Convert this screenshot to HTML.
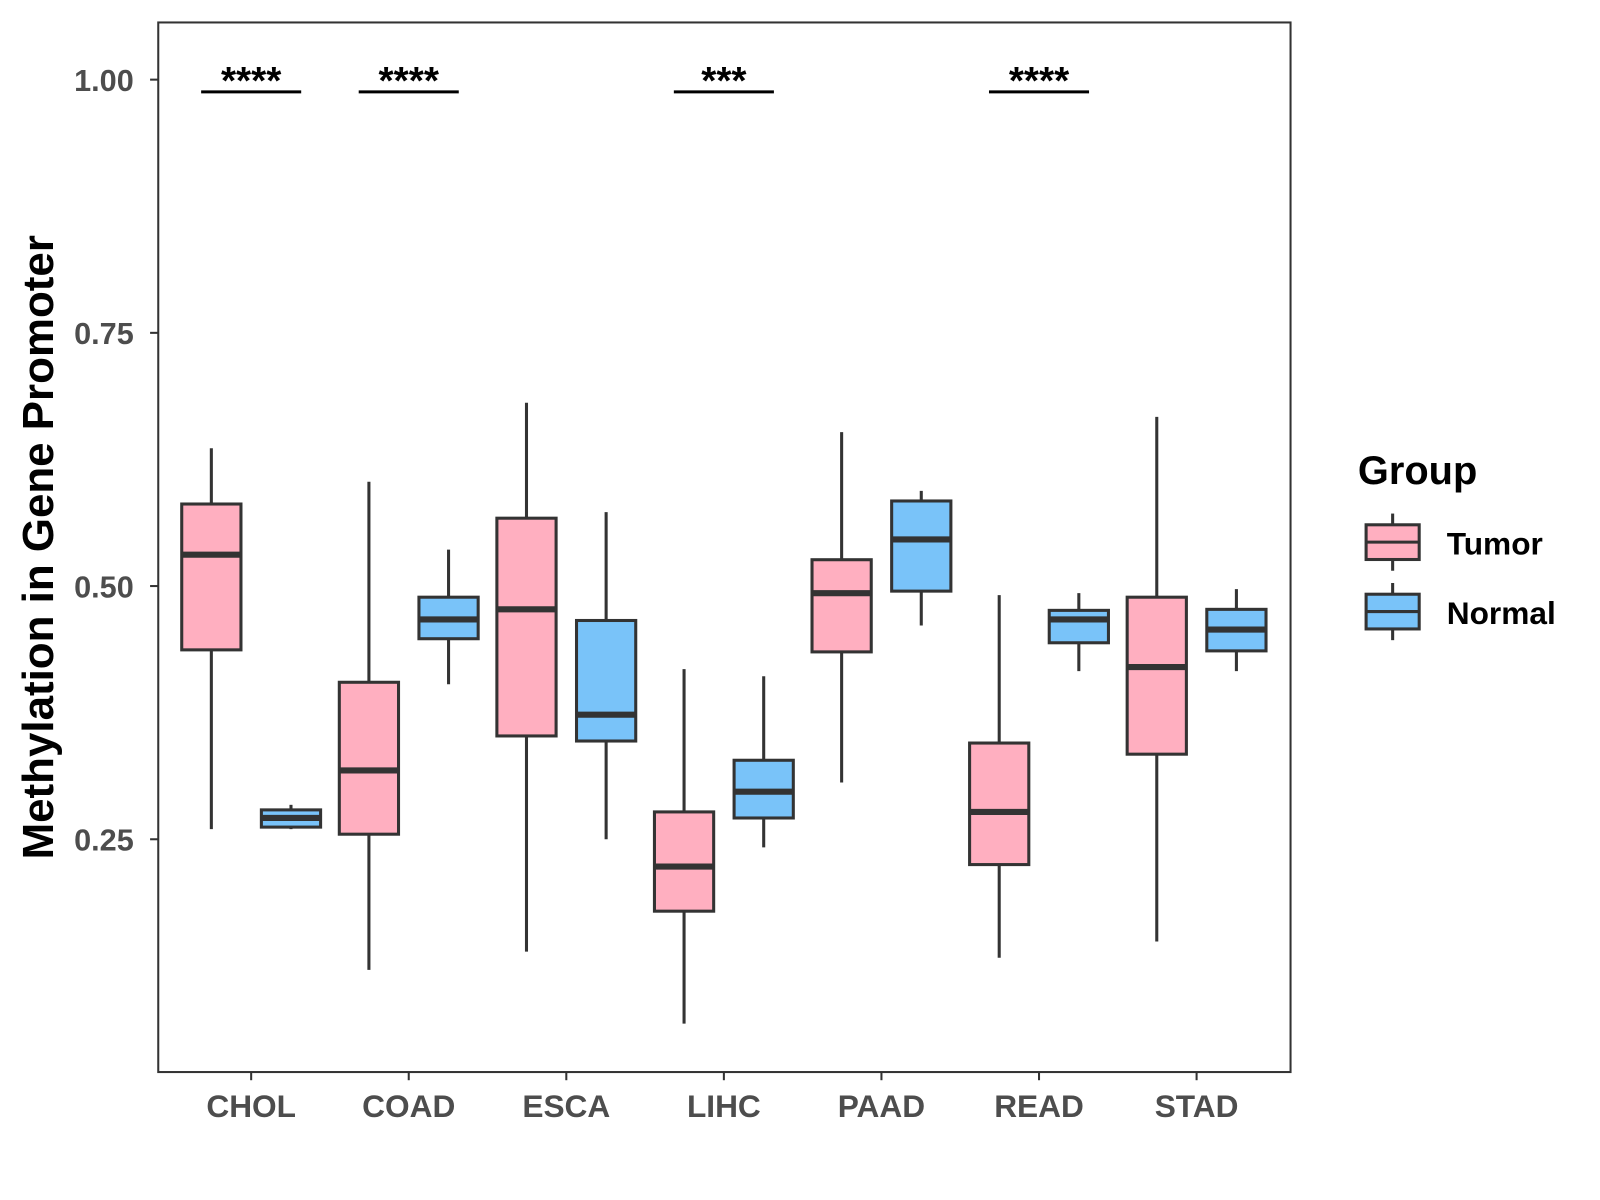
<!DOCTYPE html>
<html><head><meta charset="utf-8"><style>
html,body{margin:0;padding:0;background:#fff;width:1600px;height:1200px;overflow:hidden}
svg{display:block;font-family:"Liberation Sans",Arial,sans-serif}
</style></head><body>
<svg id="chart" width="1600" height="1200" viewBox="0 0 1600 1200">
<g transform="scale(1.021)">
<rect x="155" y="22" width="1109" height="1028" fill="#fff" stroke="#333" stroke-width="2"/>
<g id="ticks"></g>
<g id="boxes"></g>
<g id="sig"></g>
<text x="52" y="536" transform="rotate(-90 52 536)" text-anchor="middle" font-size="43" font-weight="bold" fill="#000">Methylation in Gene Promoter</text>
<g>
<text x="1330" y="474" font-size="39" font-weight="bold" fill="#000">Group</text>
<g>
<line x1="1364" y1="503" x2="1364" y2="514" stroke="#333" stroke-width="3"/>
<line x1="1364" y1="548" x2="1364" y2="559" stroke="#333" stroke-width="3"/>
<rect x="1338" y="514" width="52" height="34" fill="#FFAFC0" stroke="#333" stroke-width="3"/>
<line x1="1338" y1="531" x2="1390" y2="531" stroke="#333" stroke-width="3"/>
<text x="1417" y="543" font-size="31" font-weight="bold" fill="#000">Tumor</text>
</g>
<g>
<line x1="1364" y1="571" x2="1364" y2="582" stroke="#333" stroke-width="3"/>
<line x1="1364" y1="616" x2="1364" y2="627" stroke="#333" stroke-width="3"/>
<rect x="1338" y="582" width="52" height="34" fill="#79C3F9" stroke="#333" stroke-width="3"/>
<line x1="1338" y1="599" x2="1390" y2="599" stroke="#333" stroke-width="3"/>
<text x="1417" y="611" font-size="31" font-weight="bold" fill="#000">Normal</text>
</g>
</g>
</g>
</svg>
<script>
const categories=["CHOL","COAD","ESCA","LIHC","PAAD","READ","STAD"];
// [low, q1, median, q3, high]
const tumorStats=[[0.26,0.437,0.531,0.581,0.636],[0.121,0.255,0.318,0.405,0.603],[0.139,0.352,0.477,0.567,0.681],[0.068,0.179,0.223,0.277,0.418],[0.306,0.435,0.493,0.526,0.652],[0.133,0.225,0.277,0.345,0.491],[0.149,0.334,0.42,0.489,0.667]];
const normalStats=[[0.26,0.262,0.271,0.279,0.284],[0.403,0.448,0.467,0.489,0.536],[0.25,0.347,0.373,0.466,0.573],[0.242,0.271,0.297,0.328,0.411],[0.461,0.495,0.546,0.584,0.594],[0.416,0.444,0.467,0.476,0.493],[0.416,0.436,0.457,0.477,0.497]];
const yTicks=[0.25,0.5,0.75,1.0];
const yTickLabels=["0.25","0.50","0.75","1.00"];
const sigLabels=["****","****","","***","","****",""];

const NS="http://www.w3.org/2000/svg";
function y(v){return 78+(1-v)*992;}
function x(i){return 246+i*154.33;}
function mk(tag,attrs,parent){const e=document.createElementNS(NS,tag);for(const k in attrs)e.setAttribute(k,attrs[k]);parent.appendChild(e);return e;}
const ticks=document.getElementById('ticks'),boxes=document.getElementById('boxes'),sig=document.getElementById('sig');
yTicks.forEach((v,i)=>{
  mk('line',{x1:147,x2:155,y1:y(v),y2:y(v),stroke:'#333','stroke-width':2},ticks);
  const t=mk('text',{x:131,y:y(v)+11,'text-anchor':'end','font-size':30,'font-weight':'bold',fill:'#4d4d4d'},ticks);
  t.textContent=yTickLabels[i];
  
  
});
categories.forEach((c,i)=>{
  mk('line',{x1:x(i),x2:x(i),y1:1050,y2:1058,stroke:'#333','stroke-width':2},ticks);
  const t=mk('text',{x:x(i),y:1094,'text-anchor':'middle','font-size':31,'font-weight':'bold',fill:'#4d4d4d'},ticks);
  t.textContent=c;
  
  
  [[tumorStats[i],-39,'#FFAFC0','tumor'],[normalStats[i],39,'#79C3F9','normal']].forEach(([s,off,col,nm])=>{
    const g=mk('g',{},boxes);
    
    
    const cx=x(i)+off,w=58;
    mk('line',{x1:cx,x2:cx,y1:y(s[0]),y2:y(s[4]),stroke:'#333','stroke-width':3},g);
    mk('rect',{x:cx-w/2,y:y(s[3]),width:w,height:y(s[1])-y(s[3]),fill:col,stroke:'#333','stroke-width':3},g);
    mk('line',{x1:cx-w/2,x2:cx+w/2,y1:y(s[2]),y2:y(s[2]),stroke:'#333','stroke-width':6},g);
  });
  if(sigLabels[i]){
    const g=mk('g',{},sig);
    
    
    mk('line',{x1:x(i)-49,x2:x(i)+49,y1:90,y2:90,stroke:'#000','stroke-width':3},g);
    const t=mk('text',{x:x(i),y:92,'text-anchor':'middle','font-size':38,'font-weight':'bold',fill:'#000'},g);
    t.textContent=sigLabels[i];
  }
});
</script>
</body></html>
